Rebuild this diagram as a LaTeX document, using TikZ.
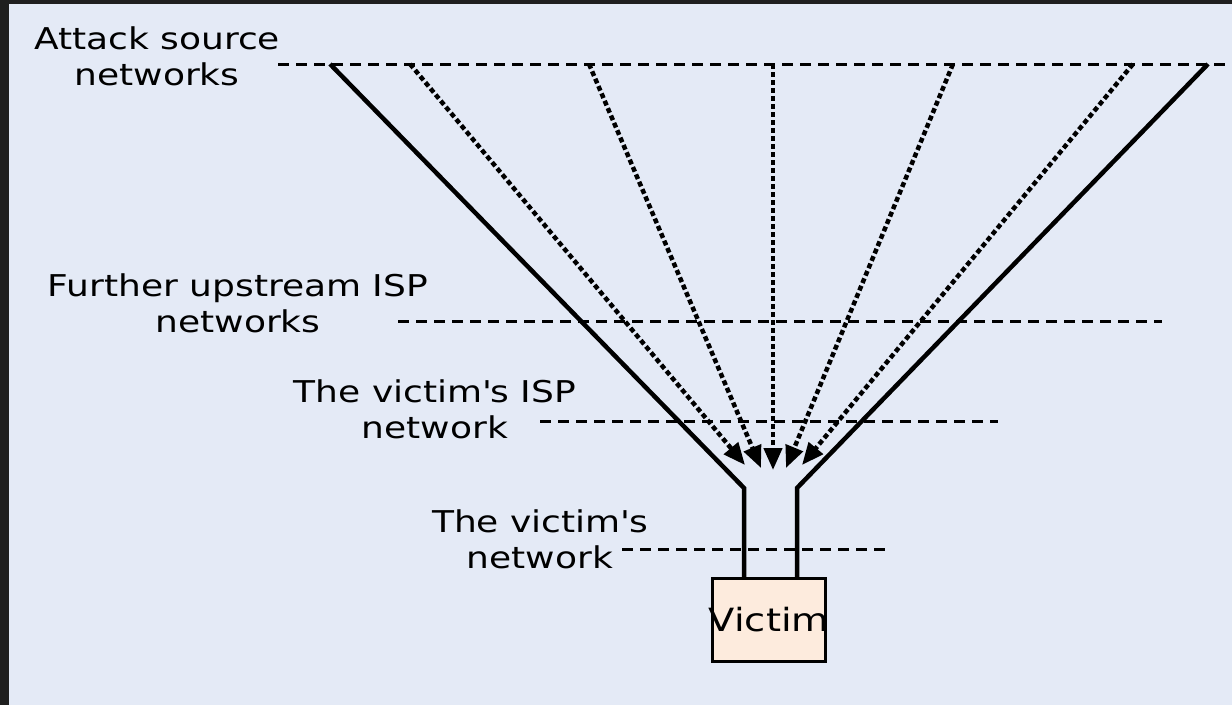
\documentclass[tikz,border=0pt]{standalone}
\usepackage{fontspec}
\usetikzlibrary{arrows.meta}
\newfontfamily\labfont[FakeStretch=1.2]{DejaVu Sans}
\definecolor{bgc}{HTML}{E4EAF6}
\definecolor{framec}{HTML}{1F1F1F}
\definecolor{victimc}{HTML}{FDEBDD}
\begin{document}
\begin{tikzpicture}[x=1pt,y=-1pt,
  lbl/.style={font=\labfont\fontsize{30}{36}\selectfont, align=center, inner sep=0pt, anchor=base, text=black},
  level/.style={draw=black, line width=3pt, dash pattern=on 11pt off 7pt},
  wall/.style={draw=black, line width=4.5pt, line join=miter},
  attack/.style={draw=black, line width=4.5pt, dash pattern=on 5pt off 3pt, -{Triangle[length=22pt,width=18pt]}},
  victimbox/.style={draw=black, line width=3.5pt, fill=victimc, minimum width=113pt, minimum height=83pt, inner sep=0pt, font=\labfont\fontsize{32}{36}\selectfont}]
\useasboundingbox (0,0) rectangle (1232,705);
\fill[framec] (0,0) rectangle (1232,705);
\fill[bgc] (9,4) rectangle (1232,705);

% labels (anchored at the baseline of their last line)
\node[lbl] (lsrc) at (157,85) {Attack source\\networks};
\node[lbl] (lup) at (238,332) {Further upstream ISP\\networks};
\node[lbl] (lisp) at (435,438) {The victim\textquotesingle s ISP\\network};
\node[lbl] (lnet) at (540,568) {The victim\textquotesingle s\\network};

% level lines
\coordinate (s1) at (278,64);  \coordinate (e1) at (1232,64);
\coordinate (s2) at (398,321); \coordinate (e2) at (1162,321);
\coordinate (s3) at (540,421); \coordinate (e3) at (998,421);
\coordinate (s4) at (622,549); \coordinate (e4) at (888,549);
\draw[level] (s1) -- (e1);
\draw[level] (s2) -- (e2);
\draw[level] (s3) -- (e3);
\draw[level] (s4) -- (e4);

% victim
\node[victimbox] (victim) at (769,620) {\makebox[0pt][c]{Victim}};

% funnel walls
\coordinate (tl) at (330,64);  \coordinate (bl) at (744,488);
\coordinate (tr) at (1208,64); \coordinate (br) at (797,488);
\draw[wall] (tl) -- (bl) -- (bl |- victim.north);
\draw[wall] (tr) -- (br) -- (br |- victim.north);

% attack flows
\coordinate (a1) at (410,64);  \coordinate (t1) at (745,465);
\coordinate (a2) at (589,64);  \coordinate (t2) at (761,468);
\coordinate (a3) at (773,64);  \coordinate (t3) at (773,470);
\coordinate (a4) at (953,64);  \coordinate (t4) at (786,468);
\coordinate (a5) at (1133,64); \coordinate (t5) at (802,465);
\draw[attack] (a1) -- (t1);
\draw[attack] (a2) -- (t2);
\draw[attack] (a3) -- (t3);
\draw[attack] (a4) -- (t4);
\draw[attack] (a5) -- (t5);
\end{tikzpicture}
\end{document}
